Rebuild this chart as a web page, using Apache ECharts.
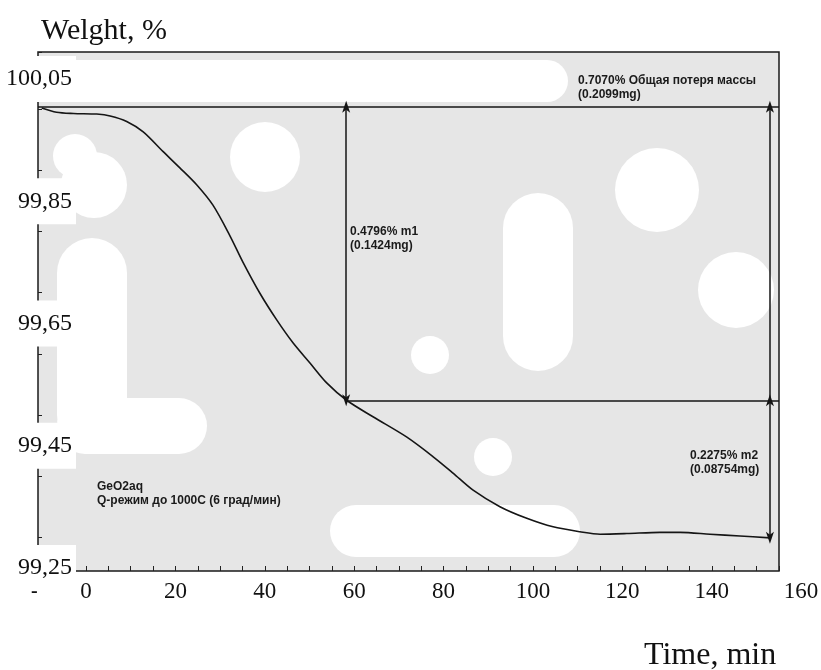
<!DOCTYPE html>
<html>
<head>
<meta charset="utf-8">
<title>GeO2aq TGA</title>
<script src="https://cdn.jsdelivr.net/npm/echarts@6/dist/echarts.min.js"></script>
<style>
  html, body { margin: 0; padding: 0; background: #fff; }
  #main { width: 821px; height: 670px; }
</style>
</head>
<body>
<div id="main"></div>
<script>
// values
var timeMin = [-9.9, -6.6, -2.8, 2.4, 5.4, 9.1, 12.8, 17.2, 21.0, 24.8, 28.4, 32.2, 35.1, 38.9, 42.7, 46.3, 50.1, 53.9,
    58.3, 64.2, 71.7, 77.6, 82.1, 86.6, 92.6, 98.6, 104.5, 110.5, 115.0, 121.0, 128.4, 132.9, 139.6, 146.3, 153.0];
var weightPct = [100.002, 99.995, 99.993, 99.992, 99.989, 99.980, 99.963, 99.931, 99.904, 99.876, 99.843, 99.793, 99.750, 99.699, 99.655, 99.618, 99.585, 99.552,
    99.524, 99.497, 99.464, 99.432, 99.405, 99.377, 99.350, 99.331, 99.317, 99.309, 99.305, 99.306, 99.308, 99.308, 99.305, 99.302, 99.299];

var xTickLabels = ['0', '20', '40', '60', '80', '100', '120', '140', '160'];
var yTickLabels = ['99,25', '99,45', '99,65', '99,85', '100,05'];

// levels for the step marks
var startLevel = 100.004;
var m1Level = 99.524;
var endLevel = 99.299;
var m1Time = 58.2;
var endTime = 153.0;

var xMin = -10.74, xMax = 155.03;
var yMin = 99.2448, yMax = 100.0935;

var myChart = echarts.init(document.getElementById('main'));

var serif = 'Liberation Serif';
var sans = 'Liberation Sans';

// scan blots (white patches over the plot)
var blots = [
    {type: 'rect', shape: {x: 40, y: 60, width: 528, height: 42, r: 21}},
    {type: 'circle', shape: {cx: 75, cy: 156, r: 22}},
    {type: 'circle', shape: {cx: 94, cy: 185, r: 33}},
    {type: 'rect', shape: {x: 57, y: 238, width: 70, height: 212, r: 35}},
    {type: 'rect', shape: {x: 57, y: 398, width: 150, height: 56, r: 28}},
    {type: 'circle', shape: {cx: 265, cy: 157, r: 35}},
    {type: 'rect', shape: {x: 503, y: 193, width: 70, height: 178, r: 35}},
    {type: 'circle', shape: {cx: 657, cy: 190, r: 42}},
    {type: 'circle', shape: {cx: 736, cy: 290, r: 38}},
    {type: 'circle', shape: {cx: 430, cy: 355, r: 19}},
    {type: 'circle', shape: {cx: 493, cy: 457, r: 19}},
    {type: 'rect', shape: {x: 330, y: 505, width: 250, height: 52, r: 26}}
];
blots.forEach(function (b) {
    b.z = 1;
    b.silent = true;
    b.style = {fill: '#fff'};
});

var note = function (x, y, text) {
    return {
        type: 'text', x: x, y: y, z: 6, silent: true,
        style: {text: text, fill: '#1a1a1a', font: 'bold 12px ' + sans, lineHeight: 14}
    };
};

var arrowPath = 'path://M5,0 L10,16 L5,12 L0,16 Z';

var option = {
    animation: false,
    title: [
        {text: 'Welght, %', left: 36, top: 11, textStyle: {fontFamily: serif, fontWeight: 'normal', fontSize: 30, color: '#111'}},
        {text: 'Time, min', left: 639, top: 635, textStyle: {fontFamily: serif, fontWeight: 'normal', fontSize: 32, color: '#111'}}
    ],
    grid: [
        // plot frame
        {left: 38, right: 42, top: 52, bottom: 99, outerBoundsMode: 'none', containLabel: false,
         show: true, backgroundColor: '#e6e6e6', borderColor: '#1a1a1a', borderWidth: 1.5},
        // tick label layer
        {left: 86, right: 20, top: 79, bottom: 102, outerBoundsMode: 'none', containLabel: false}
    ],
    xAxis: [
        {
            type: 'value', gridIndex: 0, min: xMin, max: xMax, splitNumber: 16,
            axisLine: {show: false, onZero: false},
            axisTick: {show: true, inside: true, length: 5, lineStyle: {color: '#222'}},
            minorTick: {show: true, splitNumber: 2, length: 5, lineStyle: {color: '#222'}},
            axisLabel: {show: false}, splitLine: {show: false}
        },
        {
            type: 'category', gridIndex: 1, data: xTickLabels, boundaryGap: false,
            axisLine: {show: false}, axisTick: {show: false}, splitLine: {show: false},
            axisLabel: {fontFamily: serif, fontSize: 23, color: '#111', margin: 12}
        }
    ],
    yAxis: [
        {
            type: 'value', gridIndex: 0, min: yMin, max: yMax,
            axisLine: {show: false, onZero: false},
            axisTick: {show: true, inside: true, length: 4, lineStyle: {color: '#222'}},
            minorTick: {show: true, splitNumber: 2, length: 4, lineStyle: {color: '#222'}},
            axisLabel: {show: false}, splitLine: {show: false}
        },
        {
            type: 'category', gridIndex: 1, data: yTickLabels, boundaryGap: false, z: 3,
            axisLine: {show: false}, axisTick: {show: false}, splitLine: {show: false},
            axisLabel: {
                fontFamily: serif, fontSize: 24, color: '#111', margin: 10,
                backgroundColor: '#fff', padding: [11, 4, 11, 15]
            }
        }
    ],
    graphic: blots.concat([
        {type: 'text', x: 31, y: 582, z: 6, silent: true, style: {text: '-', fill: '#111', font: 'bold 20px ' + serif}},
        note(578, 74, '0.7070% Общая потеря массы\n(0.2099mg)'),
        note(350, 225, '0.4796% m1\n(0.1424mg)'),
        note(690, 449, '0.2275% m2\n(0.08754mg)'),
        note(97, 480, 'GeO2aq\nQ-режим до 1000С (6 град/мин)')
    ]),
    series: [
        {
            name: 'GeO2aq',
            type: 'line',
            xAxisIndex: 0, yAxisIndex: 0,
            z: 5,
            smooth: 0.3,
            showSymbol: false,
            lineStyle: {color: '#151515', width: 1.6},
            data: timeMin.map(function (t, i) { return [t, weightPct[i]]; }),
            markLine: {
                silent: true,
                symbol: 'none',
                label: {show: false},
                lineStyle: {color: '#151515', width: 1.5, type: 'solid'},
                data: [
                    [{coord: [xMin, startLevel]}, {coord: [xMax, startLevel]}],
                    [{coord: [m1Time, m1Level]}, {coord: [xMax, m1Level]}],
                    [{coord: [m1Time, startLevel], symbol: arrowPath, symbolSize: [8, 12]},
                     {coord: [m1Time, m1Level], symbol: arrowPath, symbolSize: [8, 12]}],
                    [{coord: [endTime, startLevel], symbol: arrowPath, symbolSize: [8, 12]},
                     {coord: [endTime, m1Level], symbol: 'none'}],
                    [{coord: [endTime, m1Level], symbol: arrowPath, symbolSize: [8, 12]},
                     {coord: [endTime, endLevel], symbol: arrowPath, symbolSize: [8, 12]}]
                ]
            }
        }
    ]
};

myChart.setOption(option);
</script>
</body>
</html>
